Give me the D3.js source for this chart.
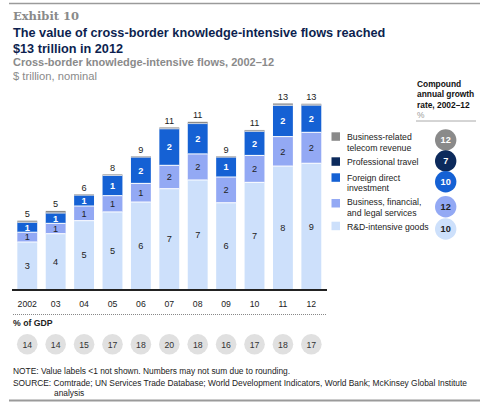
<!DOCTYPE html>
<html>
<head>
<meta charset="utf-8">
<script src="https://cdn.jsdelivr.net/npm/d3@7"></script>
<style>
  body { margin: 0; background: #fff; }
  text { font-family: "Liberation Sans", Arial, sans-serif; }
</style>
</head>
<body>
<script>
// values in $ trillion
var years = ["2002", "03", "04", "05", "06", "07", "08", "09", "10", "11", "12"];
var rdGoods = [3.21, 3.77, 4.65, 5.24, 5.91, 6.81, 7.40, 5.86, 7.24, 8.34, 8.53];
var busServices = [0.66, 0.70, 0.99, 1.10, 1.26, 1.58, 1.76, 1.74, 1.82, 1.99, 2.09];
var fdi = [0.65, 0.68, 0.72, 1.35, 1.76, 2.45, 2.03, 1.33, 1.61, 2.09, 1.82];
var proTravel = [0.05, 0.06, 0.04, 0.04, 0.04, 0.05, 0.06, 0.04, 0.05, 0.07, 0.05];
var telecom = [0.08, 0.10, 0.05, 0.05, 0.05, 0.06, 0.08, 0.05, 0.06, 0.08, 0.06];
var gdpShare = [14, 14, 15, 17, 18, 20, 18, 16, 17, 18, 17];

var seriesNames = ["R&D-intensive goods", "Business, financial, and legal services",
  "Foreign direct investment", "Professional travel", "Business-related telecom revenue"];
var seriesColors = ["#cde0fb", "#93a9f4", "#1561d4", "#0c2a5c", "#8a8a8a"];
var growth = [10, 12, 10, 7, 12];

var W = 488, H = 407;
var small = "8.7px";

var svg = d3.select("body").append("svg")
  .attr("width", W)
  .attr("height", H);

// rules
svg.append("line").attr("x1", 9).attr("x2", 480).attr("y1", 3.5).attr("y2", 3.5)
  .attr("stroke", "#9a9a9a").attr("stroke-width", 1.6);
svg.append("line").attr("x1", 9).attr("x2", 480).attr("y1", 400.5).attr("y2", 400.5)
  .attr("stroke", "#9a9a9a").attr("stroke-width", 1.8);

// header
svg.append("text").attr("x", 13).attr("y", 20)
  .style("font-family", "'DejaVu Serif', Georgia, serif").style("font-weight", "bold")
  .style("font-size", "11.5px").attr("fill", "#8a8a8a").text("Exhibit 10");
svg.append("text").attr("x", 13).attr("y", 37)
  .style("font-weight", "bold").style("font-size", "12.7px").attr("fill", "#0d1f4f")
  .text("The value of cross-border knowledge-intensive flows reached");
svg.append("text").attr("x", 13).attr("y", 52.5)
  .style("font-weight", "bold").style("font-size", "12.7px").attr("fill", "#0d1f4f")
  .text("$13 trillion in 2012");
svg.append("text").attr("x", 13).attr("y", 66)
  .style("font-weight", "bold").style("font-size", "11px").attr("fill", "#8a8a8a")
  .text("Cross-border knowledge-intensive flows, 2002\u201312");
svg.append("text").attr("x", 13).attr("y", 80)
  .style("font-size", "11.2px").attr("fill", "#8a8a8a")
  .text("$ trillion, nominal");

// stacked bars
var rows = years.map(function(y, i) {
  return { year: y, s0: rdGoods[i], s1: busServices[i], s2: fdi[i], s3: proTravel[i], s4: telecom[i] };
});
var keys = ["s0", "s1", "s2", "s3", "s4"];
var stack = d3.stack().keys(keys)(rows);

var x = d3.scaleBand()
  .domain(years)
  .range([8.8, 329.8])
  .padding(0.3);

var y = d3.scaleLinear()
  .domain([0, 10])
  .range([289.5, 141.5]);

var layer = svg.selectAll(".layer")
  .data(stack)
  .enter().append("g")
  .attr("class", "layer")
  .attr("fill", function(d, i) { return seriesColors[i]; });

layer.selectAll("rect")
  .data(function(d) { return d; })
  .enter().append("rect")
  .attr("x", function(d) { return x(d.data.year); })
  .attr("width", x.bandwidth())
  .attr("y", function(d) { return y(d[1]); })
  .attr("height", function(d) { return y(d[0]) - y(d[1]); });

// white separators between the main segments
[0, 1].forEach(function(k) {
  svg.selectAll(".sep" + k)
    .data(stack[k])
    .enter().append("line")
    .attr("x1", function(d) { return x(d.data.year); })
    .attr("x2", function(d) { return x(d.data.year) + x.bandwidth(); })
    .attr("y1", function(d) { return y(d[1]); })
    .attr("y2", function(d) { return y(d[1]); })
    .attr("stroke", "#fff").attr("stroke-width", 1);
});
svg.selectAll(".sep2")
  .data(stack[2])
  .enter().append("line")
  .attr("x1", function(d) { return x(d.data.year); })
  .attr("x2", function(d) { return x(d.data.year) + x.bandwidth(); })
  .attr("y1", function(d) { return y(d[1]) - 0.3; })
  .attr("y2", function(d) { return y(d[1]) - 0.3; })
  .attr("stroke", "#fff").attr("stroke-width", 0.8);

// segment value labels (<1 not shown)
[0, 1, 2].forEach(function(k) {
  svg.selectAll(".lab" + k)
    .data(stack[k].filter(function(d) { return Math.round(d[1] - d[0]) >= 1; }))
    .enter().append("text")
    .attr("x", function(d) { return x(d.data.year) + x.bandwidth() / 2; })
    .attr("y", function(d) { return (y(d[0]) + y(d[1])) / 2 + 3.3; })
    .attr("text-anchor", "middle")
    .style("font-size", "9.2px")
    .style("font-weight", k == 2 ? "bold" : "normal")
    .attr("fill", k == 2 ? "#fff" : "#222")
    .text(function(d) { return Math.round(d[1] - d[0]); });
});

// totals
svg.selectAll(".total")
  .data(stack[4])
  .enter().append("text")
  .attr("x", function(d) { return x(d.data.year) + x.bandwidth() / 2; })
  .attr("y", function(d) { return y(d[1]) - 3.5; })
  .attr("text-anchor", "middle")
  .style("font-size", "9.2px").attr("fill", "#222")
  .text(function(d) { return Math.round(d[1]); });

// x axis
svg.append("line").attr("x1", 12).attr("x2", 327).attr("y1", 290).attr("y2", 290)
  .attr("stroke", "#222").attr("stroke-width", 1.8);
svg.selectAll(".year")
  .data(years)
  .enter().append("text")
  .attr("x", function(d) { return x(d) + x.bandwidth() / 2; })
  .attr("y", 307)
  .attr("text-anchor", "middle")
  .style("font-size", small).attr("fill", "#222")
  .text(function(d) { return d; });
svg.append("line").attr("x1", 13).attr("x2", 327).attr("y1", 314.5).attr("y2", 314.5)
  .attr("stroke", "#888").attr("stroke-width", 1).attr("stroke-dasharray", "1,1");

// % of GDP row
svg.append("text").attr("x", 13).attr("y", 326)
  .style("font-size", small).style("font-weight", "bold").attr("fill", "#222")
  .text("% of GDP");
var gdp = svg.selectAll(".gdp")
  .data(gdpShare)
  .enter().append("g")
  .attr("transform", function(d, i) {
    return "translate(" + (x(years[i]) + x.bandwidth() / 2) + ",344.3)";
  });
gdp.append("circle").attr("r", 10.3).attr("fill", "#e0e0e0");
gdp.append("text").attr("y", 3.2).attr("text-anchor", "middle")
  .style("font-size", small).attr("fill", "#333")
  .text(function(d) { return d; });

// growth column header
svg.append("text").attr("x", 417).attr("y", 87)
  .style("font-size", "8.4px").style("font-weight", "bold").attr("fill", "#111")
  .selectAll("tspan")
  .data(["Compound", "annual growth", "rate, 2002\u201312"])
  .enter().append("tspan")
  .attr("x", 417)
  .attr("dy", function(d, i) { return i == 0 ? 0 : 10.3; })
  .text(function(d) { return d; });
svg.append("text").attr("x", 417).attr("y", 117.5)
  .style("font-size", "8.4px").attr("fill", "#999").text("%");
svg.append("line").attr("x1", 416).attr("x2", 476).attr("y1", 121).attr("y2", 121)
  .attr("stroke", "#aaa").attr("stroke-width", 1);

// legend, top to bottom
var legendItems = [
  { k: 4, lines: ["Business-related", "telecom revenue"], sq: 132.3, base: 140, cy: 140 },
  { k: 3, lines: ["Professional travel"], sq: 157.3, base: 165, cy: 161 },
  { k: 2, lines: ["Foreign direct", "investment"], sq: 173.3, base: 180.5, cy: 181.7 },
  { k: 1, lines: ["Business, financial,", "and legal services"], sq: 199, base: 205, cy: 206.7 },
  { k: 0, lines: ["R&D-intensive goods"], sq: 221.7, base: 230, cy: 229 }
];

var leg = svg.selectAll(".leg")
  .data(legendItems)
  .enter().append("g");
leg.append("rect")
  .attr("x", 331.5).attr("width", 8.5).attr("height", 8.5)
  .attr("y", function(d) { return d.sq; })
  .attr("fill", function(d) { return seriesColors[d.k]; });
leg.append("text")
  .attr("y", function(d) { return d.base; })
  .style("font-size", small).attr("fill", "#222")
  .selectAll("tspan")
  .data(function(d) { return d.lines; })
  .enter().append("tspan")
  .attr("x", 347)
  .attr("dy", function(d, i) { return i == 0 ? 0 : 10.5; })
  .text(function(d) { return d; });
leg.append("circle")
  .attr("cx", 445.7)
  .attr("cy", function(d) { return d.cy; })
  .attr("r", 10.7)
  .attr("fill", function(d) { return seriesColors[d.k]; });
leg.append("text")
  .attr("x", 445.7)
  .attr("y", function(d) { return d.cy + 3.3; })
  .attr("text-anchor", "middle")
  .style("font-size", "9.2px").style("font-weight", "bold")
  .attr("fill", function(d) { return d.k >= 2 ? "#fff" : "#222"; })
  .text(function(d) { return growth[d.k]; });

// notes
svg.append("text").attr("x", 13).attr("y", 373.5)
  .style("font-size", "8.4px").attr("fill", "#222")
  .text("NOTE: Value labels <1 not shown. Numbers may not sum due to rounding.");
svg.append("text").attr("x", 13).attr("y", 385.5)
  .style("font-size", "8.4px").attr("fill", "#222")
  .text("SOURCE: Comtrade; UN Services Trade Database; World Development Indicators, World Bank; McKinsey Global Institute");
svg.append("text").attr("x", 54).attr("y", 395.5)
  .style("font-size", "8.4px").attr("fill", "#222")
  .text("analysis");
</script>
</body>
</html>
